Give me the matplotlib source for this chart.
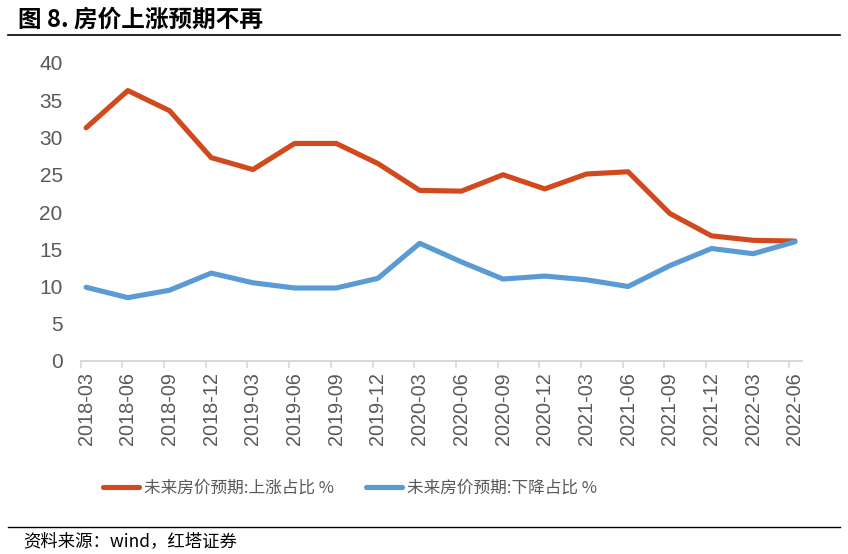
import matplotlib
matplotlib.use("Agg")
import matplotlib.pyplot as plt
from matplotlib.lines import Line2D
import numpy as np

categories = ["2018-03", "2018-06", "2018-09", "2018-12",
              "2019-03", "2019-06", "2019-09", "2019-12",
              "2020-03", "2020-06", "2020-09", "2020-12",
              "2021-03", "2021-06", "2021-09", "2021-12",
              "2022-03", "2022-06"]
rise = [31.3, 36.3, 33.6, 27.3, 25.7, 29.2, 29.2, 26.5, 22.9, 22.8,
        25.0, 23.1, 25.1, 25.4, 19.8, 16.8, 16.2, 16.1]
fall = [9.9, 8.5, 9.5, 11.8, 10.5, 9.8, 9.8, 11.1, 15.8, 13.3,
        11.0, 11.4, 10.9, 10.0, 12.8, 15.1, 14.4, 16.0]
yticks = [0, 5, 10, 15, 20, 25, 30, 35, 40]

title = "图 8. 房价上涨预期不再"
source = "资料来源：wind，红塔证券"
label_rise = "未来房价预期:上涨占比 %"
label_fall = "未来房价预期:下降占比 %"

RED = "#D04A1E"
BLUE = "#5B9BD5"
GREY = "#595959"

W, H = 848, 554
fig = plt.figure(figsize=(W / 100, H / 100), dpi=100)

ax = fig.add_axes([80.7 / W, 1 - 361 / H, (802 - 80.7) / W, (361 - 63) / H])
x = np.arange(len(categories))
ax.plot(x, rise, color=RED, lw=3.7, solid_capstyle="round", solid_joinstyle="round")
ax.plot(x, fall, color=BLUE, lw=3.7, solid_capstyle="round", solid_joinstyle="round")

ax.set_ylim(0, 40)
ax.set_xlim(-0.13, len(categories) - 1 + 0.17)
ax.set_yticks(yticks)
ax.set_yticklabels([str(v) for v in yticks], fontsize=15, color=GREY,
                   family=["Liberation Sans", "DejaVu Sans"])
ax.tick_params(axis="y", length=0, pad=13)

ax.set_xticks(x)
ax.set_xticklabels(categories, rotation=90, fontsize=14.3, color=GREY,
                   family=["Liberation Sans", "DejaVu Sans"])
ax.tick_params(axis="x", which="major", length=0, pad=8)
ax.set_xticks(x - 0.13, minor=True)
ax.tick_params(axis="x", which="minor", length=5, width=1.2, color="#D9D9D9")

for s in ["left", "right", "top"]:
    ax.spines[s].set_visible(False)
ax.spines["bottom"].set_color("#D9D9D9")
ax.spines["bottom"].set_linewidth(1.5)

# title and rules
fig.text(18 / W, 1 - 20 / H, title, fontsize=17, fontweight="bold",
         family=["Noto Sans CJK SC", "DejaVu Sans"], va="center", ha="left", color="black")
fig.add_artist(Line2D([8 / W, 840 / W], [1 - 34.5 / H, 1 - 34.5 / H], color="black", lw=1.2))
fig.add_artist(Line2D([8 / W, 840 / W], [1 - 527 / H, 1 - 527 / H], color="black", lw=1.0))
fig.text(23 / W, 1 - 541 / H, source, fontsize=12.5,
         family=["Noto Sans CJK SC", "DejaVu Sans"], va="center", ha="left", color="black")

handles = [Line2D([], [], color=RED, lw=3.7, solid_capstyle="round"),
           Line2D([], [], color=BLUE, lw=3.7, solid_capstyle="round")]
leg = fig.legend(handles, [label_rise, label_fall], loc="center",
                 bbox_to_anchor=(350 / W, 1 - 488 / H), ncol=2, frameon=False,
                 handlelength=2.15, handletextpad=0.3, columnspacing=1.9,
                 prop={"family": ["Noto Sans CJK SC", "DejaVu Sans"], "size": 12})
for t in leg.get_texts():
    t.set_color(GREY)

fig.savefig("out.png", dpi=100)
